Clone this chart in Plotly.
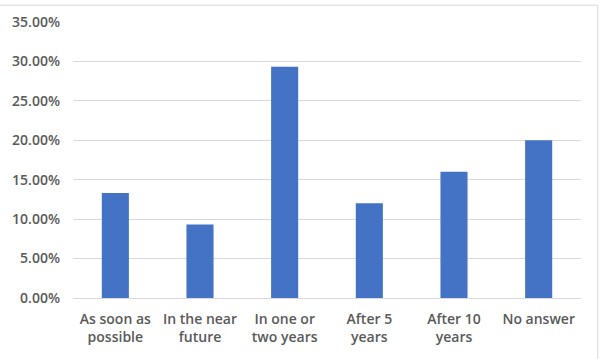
import plotly.graph_objects as go

# answer categories (two-line labels as in the sheet)
categories = ["As soon as<br>possible", "In the near<br>future", "In one or<br>two years",
              "After 5<br>years", "After 10<br>years", "No answer"]
shares = [0.1333, 0.0933, 0.2933, 0.12, 0.16, 0.20]
y_ticks = [0, 0.05, 0.10, 0.15, 0.20, 0.25, 0.30, 0.35]

fig = go.Figure()
fig.add_trace(go.Bar(x=categories, y=shares, marker=dict(color="#4472c4", line=dict(width=0))))

text_font = dict(family="Open Sans, Calibri, sans-serif", size=14, color="#595959", weight=600)

fig.update_layout(
    width=600, height=359,
    margin=dict(l=69, r=19, t=18, b=61),
    paper_bgcolor="white", plot_bgcolor="white",
    bargap=0.68,
    showlegend=False,
    font=text_font,
    xaxis=dict(showgrid=False, showline=True, linecolor="#d9d9d9", linewidth=1,
               ticks="", tickangle=0, tickfont=text_font, ticklabelstandoff=8),
    yaxis=dict(range=[0, 0.35], tickvals=y_ticks, tickformat=".2%",
               showgrid=True, gridcolor="#d9d9d9", gridwidth=1, zeroline=False,
               showline=False, ticks="", tickfont=text_font, ticklabelstandoff=12),
    shapes=[
        # chart frame edges visible in the screenshot (top and right)
        dict(type="line", xref="paper", yref="paper", x0=-0.2, x1=1.033, y0=1.061, y1=1.061,
             line=dict(color="#d9d9d9", width=1)),
        dict(type="line", xref="paper", yref="paper", x0=1.033, x1=1.033, y0=-0.3, y1=1.061,
             line=dict(color="#d9d9d9", width=1)),
    ],
)

# drop the default page margin so the chart sits at the window corner
fig.write_html("out.html", config={"displayModeBar": False},
               post_script="document.body.style.margin='0';")
